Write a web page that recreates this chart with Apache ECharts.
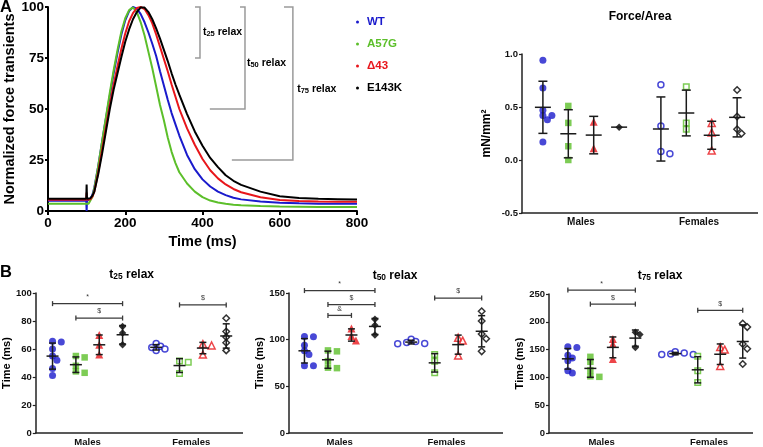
<!DOCTYPE html>
<html><head><meta charset="utf-8">
<script src="https://cdn.jsdelivr.net/npm/echarts@6/dist/echarts.min.js"></script>
<style>html,body{margin:0;padding:0;background:#fff}#c{width:763px;height:447px}</style>
</head><body><div id="c"></div>
<script>
// ---------- Panel A: normalized force transients ----------
const timeMs = [0,90,99,100,101,105,110,115,120,130,140,150,160,170,180,190,200,210,220,230,240,250,260,270,280,290,300,310,320,330,340,360,380,400,420,440,460,480,500,550,600,650,700,750,800];
const curveWT    = [5,5,5,0,5,5.2,6,8,11.5,22,34,45.5,56.5,67.5,77.5,86.5,93.5,98,100,99.2,96.5,92.5,87.5,82,76,68.5,61.5,54.5,48,42.5,37,27.5,20.5,15.5,12,9.5,7.8,6.5,5.7,4.6,4.1,3.8,3.6,3.5,3.5];
const curveA57G  = [3.5,3.5,3.5,3.5,3.5,3.6,4.5,7,11,22,34,46,58,69,79,88,94.5,98.5,99.8,97.5,92.5,86,78,70,61,52,44.5,36,29,23.5,19,13.5,9.5,6.8,5.1,4.2,3.6,3.1,2.8,2.4,2.2,2.1,2,2,2];
const curveD43   = [5.5,5.5,5.5,9,5.5,5.5,5.8,7,9.5,19,30,41,52,62,71,79.5,87,93,97,99.5,100,99,96,92,86.5,80.5,74.5,68.5,62,56,50,40.5,32.5,25.5,20,16,13,10.8,9.2,6.7,5.4,4.9,4.6,4.5,4.5];
const curveE143K = [6,6,6,13,6,6,6.3,7.5,9.5,18,28,39,50,59.5,67.5,75.5,83,89,94,97.5,99.8,99.7,97.5,94,89.5,84.5,79,73.5,67.5,62,57,47.5,39,32,26,21.5,17.5,14.8,12.8,9.5,7.2,6.4,6,5.8,5.6];
const timeTicks = [0,200,400,600,800];
const forceTicks = [0,25,50,75,100];
// relaxation brackets (ms, % of peak): [xBottomStart, xTopStart, xVertical, yTop, yBottom, subscript, labelX, labelY]
const relaxBrackets = [
  [380.6, 380.6, 393.5, 100, 75, '25', 401, 88.3],
  [419,   497,   510,   100, 50, '50', 515, 73.2],
  [476,   611,   634,   100, 25, '75', 645, 60.5]
];

// ---------- Groups ----------
const sexes = ['Males','Females'];
const genotypes = ['WT','A57G','Δ43','E143K'];
const colors = ['#1a1acc','#5cbf2a','#e8161b','#000000'];
const symbols = ['circle','rect','triangle','diamond'];
// Force/Area (mN/mm2)
const forceMales   = [[0.94,0.68,0.47,0.42,0.42,0.38,0.17],[0.51,0.35,0.13,0.0],[0.36,0.11],[0.31]];
const forceFemales = [[0.71,0.32,0.08,0.06],[0.69,0.35,0.29],[0.35,0.26,0.09],[0.66,0.41,0.29,0.25]];
const forceAreaTicks = [-0.5,0,0.5,1.0];
// t25 relax (ms)
const t25Males   = [[65.5,65,60,55,52,46,41],[55,54,48,44,43],[70,63,56],[76,71.5,63]];
const t25Females = [[64,62,61,60,59],[51.5,50.5,42.5],[63.5,62.5,56],[82,72.5,68.5,64.5,59]];
const t25Ticks = [0,20,40,60,80,100];
const t25Sig = [[0,0,3,92.4,'*'],[0,1,3,82.1,'$'],[1,1,3,91.5,'$']];
// t50 relax (ms)
const t50Males   = [[103.5,103,94,88,84,72,72],[88.5,87.5,77,70,69.5],[112,104,99],[122,115.5,105]];
const t50Females = [[100.5,98,97,96,95.5],[84,77,64.5],[102,99,83],[130.5,120,106,101,87.5]];
const t50Ticks = [0,50,100,150];
const t50Sig = [[0,0,3,152.6,'*'],[0,1,3,137.6,'$'],[0,1,2,126,'&'],[1,1,3,144.6,'$']];
// t75 relax (ms)
const t75Males   = [[155,154,140,135,130,112,108],[137,128,113,102,101],[169,160,133],[181,177,154]];
const t75Females = [[146,144,142,141,141],[138,112,91],[154.5,150,120.5],[197,190.5,160,151.5,124]];
const t75Ticks = [0,50,100,150,200,250];
const t75Sig = [[0,0,3,257,'*'],[0,1,3,231.8,'$'],[1,1,3,220.6,'$']];

// ---------- build ----------
const FONT = "'Liberation Sans', Arial, sans-serif";
const AX = '#222';
const chart = echarts.init(document.getElementById('c'), null, {renderer:'canvas'});
const grids = [
  {left:48, top:6, width:309, height:205},
  {left:522, top:54, width:236, height:159},
  {left:30, top:293, width:213, height:143},
  {left:289, top:293, width:214, height:143},
  {left:549, top:294, width:204, height:142}
];
const xAxes = [{
  gridIndex:0, type:'value', min:timeTicks[0], max:timeTicks[timeTicks.length-1], interval:timeTicks[1]-timeTicks[0],
  axisLine:{onZero:false, lineStyle:{color:'#000', width:2}}, axisTick:{length:4, lineStyle:{color:'#000', width:2}},
  axisLabel:{color:'#000', fontWeight:'bold', fontSize:13.5, fontFamily:FONT, margin:5},
  splitLine:{show:false}, name:'Time (ms)', nameLocation:'middle', nameGap:23,
  nameTextStyle:{color:'#000', fontWeight:'bold', fontSize:14.5, fontFamily:FONT}
}];
const yAxes = [{
  gridIndex:0, type:'value', min:forceTicks[0], max:forceTicks[forceTicks.length-1], interval:forceTicks[1]-forceTicks[0],
  axisLine:{show:true, onZero:false, lineStyle:{color:'#000', width:2}}, axisTick:{show:true, length:3, lineStyle:{color:'#000', width:2}},
  axisLabel:{color:'#000', fontWeight:'bold', fontSize:13.5, fontFamily:FONT, margin:4},
  splitLine:{show:false}, name:'Normalized force transients', nameLocation:'middle', nameGap:29,
  nameTextStyle:{color:'#000', fontWeight:'bold', fontSize:14.5, fontFamily:FONT}
}];
const series = [];
[curveWT, curveA57G, curveD43, curveE143K].forEach((c, i) => {
  series.push({name: genotypes[i], type:'line', xAxisIndex:0, yAxisIndex:0, data: timeMs.map((t, k) => [t, c[k]]),
    showSymbol:false, symbol:'circle', lineStyle:{color:colors[i], width:2}, itemStyle:{color:colors[i]}, silent:true, z:2 + i});
});
series.push({
  type:'custom', xAxisIndex:0, yAxisIndex:0, silent:true, z:1,
  data: relaxBrackets.map((b, i) => [b[2], b[3], i]),
  renderItem: (params, api) => {
    const b = relaxBrackets[api.value(2)];
    const top = api.coord([b[1], b[3]]), vt = api.coord([b[2], b[3]]), vb = api.coord([b[2], b[4]]), bot = api.coord([b[0], b[4]]);
    const lab = api.coord([b[6], b[7]]);
    return {type:'group', children:[
      {type:'polyline', shape:{points:[top, vt, vb, bot]}, style:{stroke:'#9a9a9a', lineWidth:1.5, fill:null}},
      {type:'text', x:lab[0], y:lab[1], style:{text:'{b|t}{s|' + b[5] + '}{b| relax}', align:'left', verticalAlign:'middle',
        rich:{b:{fontFamily:FONT, fontWeight:'bold', fontSize:10.5, fill:'#000', lineHeight:14, verticalAlign:'bottom'},
              s:{fontFamily:FONT, fontWeight:'bold', fontSize:7.5, fill:'#000', lineHeight:14, verticalAlign:'bottom', padding:[3,0,0,0]}}}}
    ]};
  }
});
const panels = [
  {gi:1, xMin:0.5, xMax:2.5, ticks:forceAreaTicks, males:forceMales, females:forceFemales, spacingPx:25.4, yName:'mN/mm\u00B2', nameGap:29, sig:[], meanHalf:8, capHalf:4.5, fmt:v=>v.toFixed(1), lab:9.5, catLab:10, nameSize:12},
  {gi:2, xMin:0.5, xMax:2.5, ticks:t25Ticks, males:t25Males, females:t25Females, spacingPx:24, yName:'Time (ms)', nameGap:17, sig:t25Sig, meanHalf:6, capHalf:3.5, fmt:v=>String(v), lab:9.5, catLab:9.5, nameSize:11},
  {gi:3, xMin:0.525, xMax:2.53, ticks:t50Ticks, males:t50Males, females:t50Females, spacingPx:23.5, yName:'Time (ms)', nameGap:21, sig:t50Sig, meanHalf:6, capHalf:3.5, fmt:v=>String(v), lab:9.5, catLab:9.5, nameSize:11},
  {gi:4, xMin:0.51, xMax:2.41, ticks:t75Ticks, males:t75Males, females:t75Females, spacingPx:22.5, yName:'Time (ms)', nameGap:21, sig:t75Sig, meanHalf:6, capHalf:3.5, fmt:v=>String(v), lab:9.5, catLab:9.5, nameSize:11}
];
function swarm(values, pxPerUnit, sym, step) {
  const placed = [];
  return values.map(v => {
    const y = v * pxPerUnit;
    for (let k = 0; k < 30; k++) {
      const off = k === 0 ? 0 : (k % 2 ? 1 : -1) * Math.ceil(k / 2) * step;
      if (placed.every(p => Math.hypot(p[0] - off, p[1] - y) >= sym)) { placed.push([off, y]); return off; }
    }
    return 0;
  });
}
function meanSd(a) {
  const m = a.reduce((s, v) => s + v, 0) / a.length;
  if (a.length < 2) return [m, 0];
  return [m, Math.sqrt(a.reduce((s, v) => s + (v - m) * (v - m), 0) / (a.length - 1))];
}
panels.forEach(p => {
  const g = grids[p.gi];
  const yMin = p.ticks[0], yMax = p.ticks[p.ticks.length - 1];
  const pxPerX = g.width / (p.xMax - p.xMin), pxPerY = g.height / (yMax - yMin);
  xAxes.push({gridIndex:p.gi, type:'value', min:p.xMin, max:p.xMax, position:'bottom',
    axisLine:{show:false, onZero:false}, axisTick:{show:false}, splitLine:{show:false},
    axisLabel:{customValues:[1,2], formatter:v => sexes[Math.round(v) - 1], color:'#111', fontWeight:'bold', fontSize:p.catLab, fontFamily:FONT, margin:4}});
  yAxes.push({gridIndex:p.gi, type:'value', min:yMin, max:yMax, interval:p.ticks[1] - p.ticks[0],
    axisLine:{show:true, onZero:false, lineStyle:{color:AX, width:1.5}}, axisTick:{show:true, length:3, lineStyle:{color:AX, width:1.2}},
    axisLabel:{formatter:p.fmt, color:'#111', fontWeight:'bold', fontSize:p.lab, fontFamily:FONT, margin:4},
    splitLine:{show:false}, name:p.yName, nameLocation:'middle', nameGap:p.nameGap,
    nameTextStyle:{color:'#000', fontWeight:'bold', fontSize:p.nameSize, fontFamily:FONT}});
  // bottom axis line along the y minimum
  series.push({type:'custom', xAxisIndex:p.gi, yAxisIndex:p.gi, silent:true, z:6, clip:false,
    data:[[p.xMin, yMin, p.xMax]],
    renderItem: (params, api) => {
      const a = api.coord([api.value(0), api.value(1)]), b = api.coord([api.value(2), api.value(1)]);
      return {type:'line', shape:{x1:a[0] - 0.75, y1:a[1], x2:b[0], y2:b[1]}, style:{stroke:AX, lineWidth:1.5}};
    }});
  const groupX = (s, gi) => (s + 1) + (gi - 1.5) * p.spacingPx / pxPerX;
  const bars = [];
  [p.males, p.females].forEach((arr, s) => {
    arr.forEach((vals, gi) => {
      const offs = swarm(vals, pxPerY, 5, 4.5);
      const cx = groupX(s, gi), filled = s === 0;
      series.push({type:'scatter', xAxisIndex:p.gi, yAxisIndex:p.gi, silent:true, z:2, symbol:symbols[gi], symbolSize:[7, 6.5, 8, 7.5][gi] - (filled ? 0 : 1),
        data: vals.map((v, k) => [cx + offs[k] / pxPerX, v]),
        itemStyle: filled ? {color:colors[gi], borderWidth:0} : {color:'#ffffff', borderColor:colors[gi], borderWidth:1.5}});
      const ms = meanSd(vals);
      bars.push([cx, ms[0], ms[1]]);
    });
  });
  series.push({type:'custom', xAxisIndex:p.gi, yAxisIndex:p.gi, silent:true, z:5, data:bars, encode:{x:0, y:1},
    renderItem: (params, api) => {
      const x = api.value(0), m = api.value(1), sd = api.value(2);
      const c = api.coord([x, m]);
      const st = {stroke:'#1a1a1a', lineWidth:1.5};
      const ch = [{type:'line', shape:{x1:c[0] - p.meanHalf, y1:c[1], x2:c[0] + p.meanHalf, y2:c[1]}, style:st}];
      if (sd > 0) {
        const t = api.coord([x, m + sd]), b = api.coord([x, m - sd]);
        ch.push({type:'line', shape:{x1:c[0], y1:t[1], x2:c[0], y2:b[1]}, style:st});
        ch.push({type:'line', shape:{x1:c[0] - p.capHalf, y1:t[1], x2:c[0] + p.capHalf, y2:t[1]}, style:st});
        ch.push({type:'line', shape:{x1:c[0] - p.capHalf, y1:b[1], x2:c[0] + p.capHalf, y2:b[1]}, style:st});
      }
      return {type:'group', children:ch};
    }});
  if (p.sig.length) {
    series.push({type:'custom', xAxisIndex:p.gi, yAxisIndex:p.gi, silent:true, z:5, clip:false,
      data: p.sig.map((s, i) => [groupX(s[0], s[1]), groupX(s[0], s[2]), s[3], i]),
      encode:{x:[0,1], y:2},
      renderItem: (params, api) => {
        const s = p.sig[api.value(3)];
        const a = api.coord([api.value(0), api.value(2)]), b = api.coord([api.value(1), api.value(2)]);
        const st = {stroke:'#3a3a3a', lineWidth:1.3};
        return {type:'group', children:[
          {type:'line', shape:{x1:a[0], y1:a[1], x2:b[0], y2:b[1]}, style:st},
          {type:'line', shape:{x1:a[0], y1:a[1] - 2.5, x2:a[0], y2:a[1] + 2.5}, style:st},
          {type:'line', shape:{x1:b[0], y1:b[1] - 2.5, x2:b[0], y2:b[1] + 2.5}, style:st},
          {type:'text', x:(a[0] + b[0]) / 2, y:a[1] - 3, style:{text:s[4], align:'center', verticalAlign:'bottom', fontFamily:FONT, fontSize:7, fill:'#333'}}
        ]};
      }});
  }
});
chart.setOption({animation:false, backgroundColor:'#fff', textStyle:{fontFamily:FONT}, grid:grids, xAxis:xAxes, yAxis:yAxes, series:series});

const sub = (n, x, y, size) => ({type:'text', x:x, y:y, silent:true, style:{
  text:'{b|t}{s|' + n + '}{b| relax}', align:'center', verticalAlign:'middle',
  rich:{b:{fontFamily:FONT, fontWeight:'bold', fontSize:size, fill:'#000', lineHeight:16, verticalAlign:'bottom'},
        s:{fontFamily:FONT, fontWeight:'bold', fontSize:size * 0.7, fill:'#000', lineHeight:16, verticalAlign:'bottom', padding:[4,0,0,0]}}
}});
chart.setOption({
  legend:{
    orient:'vertical', left:351, top:10.5, itemWidth:3, itemHeight:3, itemGap:9, icon:'circle', selectedMode:false,
    data:genotypes.map((g, i) => ({name:g, textStyle:{color:colors[i]}})),
    textStyle:{fontFamily:FONT, fontWeight:'bold', fontSize:11.5, lineHeight:13, padding:[0,0,0,3]}
  },
  graphic:[
    {type:'text', x:0, y:7, silent:true, style:{text:'A', fontFamily:FONT, fontWeight:'bold', fontSize:16.5, fill:'#000', verticalAlign:'middle'}},
    {type:'text', x:0, y:272, silent:true, style:{text:'B', fontFamily:FONT, fontWeight:'bold', fontSize:16.5, fill:'#000', verticalAlign:'middle'}},
    {type:'text', x:640, y:17, silent:true, style:{text:'Force/Area', fontFamily:FONT, fontWeight:'bold', fontSize:12, fill:'#000', align:'center', verticalAlign:'middle'}},
    sub('25', 131.7, 272.5, 12),
    sub('50', 395, 273.5, 12),
    sub('75', 660, 273.5, 12)
  ]
});
</script></body></html>
